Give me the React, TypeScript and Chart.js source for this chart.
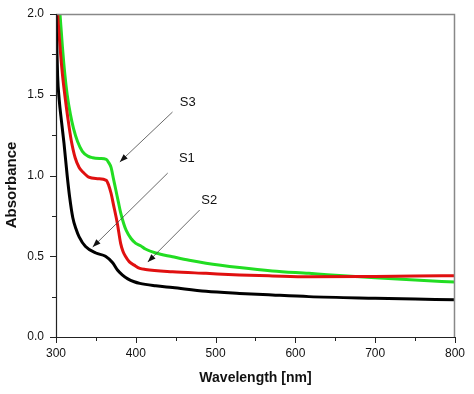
import React, { useEffect, useRef } from "react";
import { Chart, registerables } from "chart.js";

Chart.register(...registerables);

// S1 (black)
const wlS1 = [300, 302, 304, 307, 310, 314, 317, 321, 325, 329, 337, 350, 362, 371, 377, 383, 390, 398, 405, 425, 446, 488, 530, 571, 617, 700, 750, 800];
const absS1 = [2.0, 1.62, 1.47, 1.33, 1.2, 1.0, 0.87, 0.74, 0.67, 0.62, 0.56, 0.52, 0.5, 0.46, 0.415, 0.385, 0.36, 0.342, 0.332, 0.317, 0.306, 0.283, 0.27, 0.26, 0.25, 0.24, 0.235, 0.23];

// S2 (red)
const wlS2 = [302, 305, 308, 311, 315, 319, 324, 329, 334, 341, 352, 363, 366, 369, 372, 377, 381, 384, 387, 392, 398, 405, 412, 446, 488, 530, 571, 617, 700, 750, 800];
const absS2 = [2.0, 1.8, 1.63, 1.5, 1.35, 1.22, 1.11, 1.05, 1.02, 0.99, 0.98, 0.97, 0.94, 0.89, 0.82, 0.7, 0.58, 0.53, 0.5, 0.465, 0.445, 0.425, 0.418, 0.404, 0.394, 0.384, 0.378, 0.373, 0.375, 0.377, 0.38];

// S3 (green)
const wlS3 = [305, 308, 311, 314, 318, 322, 327, 333, 340, 346, 355, 363, 366, 369, 372, 375, 378, 381, 385, 388, 394, 400, 406, 412, 425, 446, 467, 488, 530, 571, 617, 640, 700, 750, 800];
const absS3 = [2.0, 1.8, 1.63, 1.5, 1.38, 1.29, 1.21, 1.15, 1.12, 1.11, 1.105, 1.1, 1.08, 1.05, 0.98, 0.91, 0.84, 0.77, 0.7, 0.66, 0.61, 0.58, 0.565, 0.545, 0.52, 0.497, 0.475, 0.457, 0.43, 0.409, 0.394, 0.386, 0.367, 0.353, 0.34];

const xTicks = [300, 400, 500, 600, 700, 800];
const xMinorTicks = [350, 450, 550, 650, 750];
const yTicks = [0, 0.5, 1.0, 1.5, 2.0];
const yMinorTicks = [0.25, 0.75, 1.25, 1.75];

// annotations: label, text position, arrow start, arrow end (data units)
const annLabels = ["S3", "S1", "S2"];
const annText = [[465, 1.455], [464, 1.108], [492, 0.848]];
const annFrom = [[446, 1.393], [440, 1.015], [480, 0.786]];
const annTo = [[380, 1.084], [346, 0.557], [415, 0.464]];

const FONT = "'Liberation Sans', Arial, sans-serif";
const toPts = (xs: number[], ys: number[]) => xs.map((x, i) => ({ x, y: ys[i] }));

const decorPlugin = {
  id: "decor",
  afterDraw(chart: any) {
    const { ctx, chartArea: a, scales } = chart;
    const xs = scales.x, ys = scales.y;
    ctx.save();
    // top/right frame
    ctx.strokeStyle = "#888";
    ctx.lineWidth = 1.5;
    ctx.beginPath();
    ctx.moveTo(a.left, a.top + 0.5);
    ctx.lineTo(a.right - 0.5, a.top + 0.5);
    ctx.lineTo(a.right - 0.5, a.bottom);
    ctx.stroke();
    // axes
    ctx.strokeStyle = "#222";
    ctx.lineWidth = 1.2;
    ctx.beginPath();
    ctx.moveTo(a.left + 0.5, a.top);
    ctx.lineTo(a.left + 0.5, a.bottom + 0.5);
    ctx.lineTo(a.right, a.bottom + 0.5);
    ctx.stroke();
    // ticks
    ctx.lineWidth = 1;
    ctx.beginPath();
    xTicks.forEach((v) => {
      const p = Math.round(xs.getPixelForValue(v)) + 0.5;
      ctx.moveTo(p, a.bottom);
      ctx.lineTo(p, a.bottom + 6);
    });
    xMinorTicks.forEach((v) => {
      const p = Math.round(xs.getPixelForValue(v)) + 0.5;
      ctx.moveTo(p, a.bottom);
      ctx.lineTo(p, a.bottom + 4);
    });
    yTicks.forEach((v) => {
      const p = Math.round(ys.getPixelForValue(v)) + 0.5;
      ctx.moveTo(a.left, p);
      ctx.lineTo(a.left - 6, p);
    });
    yMinorTicks.forEach((v) => {
      const p = Math.round(ys.getPixelForValue(v)) + 0.5;
      ctx.moveTo(a.left, p);
      ctx.lineTo(a.left - 4, p);
    });
    ctx.stroke();
    // y tick labels
    ctx.fillStyle = "#111";
    ctx.font = "12px " + FONT;
    ctx.textAlign = "right";
    ctx.textBaseline = "middle";
    yTicks.forEach((v) => {
      ctx.fillText(v.toFixed(1), a.left - 12, ys.getPixelForValue(v));
    });
    // annotations
    ctx.font = "13px " + FONT;
    ctx.textAlign = "center";
    ctx.textBaseline = "middle";
    annLabels.forEach((t, i) => {
      ctx.fillStyle = "#111";
      ctx.fillText(t, xs.getPixelForValue(annText[i][0]), ys.getPixelForValue(annText[i][1]));
      const x1 = xs.getPixelForValue(annFrom[i][0]);
      const y1 = ys.getPixelForValue(annFrom[i][1]);
      const x2 = xs.getPixelForValue(annTo[i][0]);
      const y2 = ys.getPixelForValue(annTo[i][1]);
      ctx.strokeStyle = "#444";
      ctx.lineWidth = 0.8;
      ctx.beginPath();
      ctx.moveTo(x1, y1);
      ctx.lineTo(x2, y2);
      ctx.stroke();
      const ang = Math.atan2(y2 - y1, x2 - x1);
      const L = 8, W = 3;
      ctx.beginPath();
      ctx.moveTo(x2, y2);
      ctx.lineTo(x2 - L * Math.cos(ang) + W * Math.sin(ang), y2 - L * Math.sin(ang) - W * Math.cos(ang));
      ctx.lineTo(x2 - L * Math.cos(ang) - W * Math.sin(ang), y2 - L * Math.sin(ang) + W * Math.cos(ang));
      ctx.closePath();
      ctx.fill();
    });
    // axis titles
    ctx.fillStyle = "#111";
    ctx.font = "bold 14px " + FONT;
    ctx.fillText("Wavelength [nm]", (a.left + a.right) / 2, 378);
    ctx.save();
    ctx.translate(12, 185);
    ctx.rotate(-Math.PI / 2);
    ctx.font = "bold 15px " + FONT;
    ctx.fillText("Absorbance", 0, 0);
    ctx.restore();
    ctx.restore();
  },
};

export default function App() {
  const ref = useRef<HTMLCanvasElement | null>(null);
  useEffect(() => {
    document.body.style.margin = "0";
    const canvas = ref.current!;
    const tickFont = { family: FONT, size: 12 };
    const chart = new Chart(canvas, {
      type: "line",
      data: {
        datasets: [
          { label: "S1", data: toPts(wlS1, absS1), borderColor: "#000000", borderWidth: 3, pointRadius: 0, cubicInterpolationMode: "monotone" },
          { label: "S2", data: toPts(wlS2, absS2), borderColor: "#e01010", borderWidth: 3, pointRadius: 0, cubicInterpolationMode: "monotone" },
          { label: "S3", data: toPts(wlS3, absS3), borderColor: "#22dd22", borderWidth: 3, pointRadius: 0, cubicInterpolationMode: "monotone" },
        ],
      },
      options: {
        responsive: false,
        animation: false,
        devicePixelRatio: 1,
        layout: { autoPadding: false, padding: { top: 14, right: 18, left: 0, bottom: 0 } },
        plugins: { legend: { display: false }, tooltip: { enabled: false } },
        scales: {
          x: {
            type: "linear",
            min: 300,
            max: 800,
            grid: { display: false, drawTicks: false },
            border: { display: false },
            ticks: { stepSize: 100, color: "#111", font: tickFont, padding: 9, maxRotation: 0 },
            afterFit: (s: any) => { s.height = 57; },
          },
          y: {
            min: 0,
            max: 2,
            grid: { display: false, drawTicks: false },
            border: { display: false },
            ticks: { display: false, stepSize: 0.5 },
            afterFit: (s: any) => { s.width = 56; },
          },
        },
      } as any,
      plugins: [decorPlugin],
    });
    return () => chart.destroy();
  }, []);
  return (
    <div style={{ width: 474, height: 394 }}>
      <canvas ref={ref} width={474} height={394} />
    </div>
  );
}
